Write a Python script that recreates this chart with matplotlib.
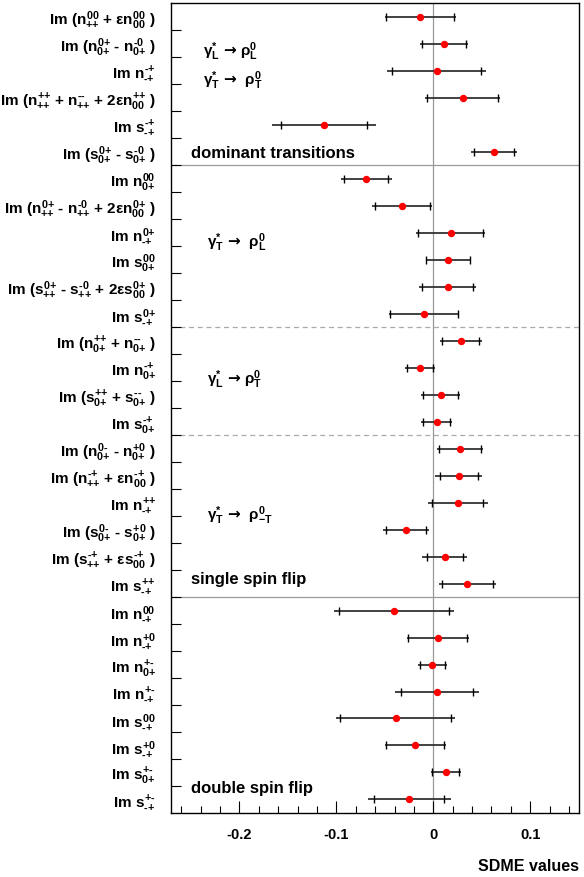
import numpy as np
import matplotlib
matplotlib.use('Agg')
import matplotlib.pyplot as plt

plt.rcParams['font.family'] = ['Liberation Sans', 'DejaVu Sans']
plt.rcParams['font.weight'] = 'bold'
plt.rcParams['mathtext.fontset'] = 'custom'
plt.rcParams['mathtext.rm'] = 'Liberation Sans:bold'
plt.rcParams['mathtext.it'] = 'Liberation Sans:bold'
plt.rcParams['mathtext.bf'] = 'Liberation Sans:bold'
plt.rcParams['mathtext.sf'] = 'DejaVu Sans:bold'
plt.rcParams['mathtext.cal'] = 'Liberation Sans'

# SDME labels, top to bottom
labels = [
    r'$\text{Im (}n^{\text{00}}_{\text{++}}\text{ + }εn^{\text{00}}_{\text{00}}\text{ )}$',
    r'$\text{Im (}n^{\text{0+}}_{\text{0+}}\text{ - }n^{\text{-0}}_{\text{0+}}\text{ )}$',
    r'$\text{Im }n^{\text{-+}}_{\text{-+}}$',
    r'$\text{Im (}n^{\text{++}}_{\text{++}}\text{ + }n^{\text{--}}_{\text{++}}\text{ + 2}εn^{\text{++}}_{\text{00}}\text{ )}$',
    r'$\text{Im }s^{\text{-+}}_{\text{-+}}$',
    r'$\text{Im (}s^{\text{0+}}_{\text{0+}}\text{ - }s^{\text{-0}}_{\text{0+}}\text{ )}$',
    r'$\text{Im }n^{\text{00}}_{\text{0+}}$',
    r'$\text{Im (}n^{\text{0+}}_{\text{++}}\text{ - }n^{\text{-0}}_{\text{++}}\text{ + 2}εn^{\text{0+}}_{\text{00}}\text{ )}$',
    r'$\text{Im }n^{\text{0+}}_{\text{-+}}$',
    r'$\text{Im }s^{\text{00}}_{\text{0+}}$',
    r'$\text{Im (}s^{\text{0+}}_{\text{++}}\text{ - }s^{\text{-0}}_{\text{++}}\text{ + 2}εs^{\text{0+}}_{\text{00}}\text{ )}$',
    r'$\text{Im }s^{\text{0+}}_{\text{-+}}$',
    r'$\text{Im (}n^{\text{++}}_{\text{0+}}\text{ + }n^{\text{--}}_{\text{0+}}\text{ )}$',
    r'$\text{Im }n^{\text{-+}}_{\text{0+}}$',
    r'$\text{Im (}s^{\text{++}}_{\text{0+}}\text{ + }s^{\text{--}}_{\text{0+}}\text{ )}$',
    r'$\text{Im }s^{\text{-+}}_{\text{0+}}$',
    r'$\text{Im (}n^{\text{0-}}_{\text{0+}}\text{ - }n^{\text{+0}}_{\text{0+}}\text{ )}$',
    r'$\text{Im (}n^{\text{-+}}_{\text{++}}\text{ + }εn^{\text{-+}}_{\text{00}}\text{ )}$',
    r'$\text{Im }n^{\text{++}}_{\text{-+}}$',
    r'$\text{Im (}s^{\text{0-}}_{\text{0+}}\text{ - }s^{\text{+0}}_{\text{0+}}\text{ )}$',
    r'$\text{Im (}s^{\text{-+}}_{\text{++}}\text{ + }εs^{\text{-+}}_{\text{00}}\text{ )}$',
    r'$\text{Im }s^{\text{++}}_{\text{-+}}$',
    r'$\text{Im }n^{\text{00}}_{\text{-+}}$',
    r'$\text{Im }n^{\text{+0}}_{\text{-+}}$',
    r'$\text{Im }n^{\text{+-}}_{\text{0+}}$',
    r'$\text{Im }n^{\text{+-}}_{\text{-+}}$',
    r'$\text{Im }s^{\text{00}}_{\text{-+}}$',
    r'$\text{Im }s^{\text{+0}}_{\text{-+}}$',
    r'$\text{Im }s^{\text{+-}}_{\text{0+}}$',
    r'$\text{Im }s^{\text{+-}}_{\text{-+}}$',
]

values = [-0.0134, 0.0110, 0.0035, 0.0303, -0.1128, 0.0630,
          -0.0691, -0.0320, 0.0179, 0.0152, 0.0148, -0.0096,
          0.0282, -0.0140, 0.0076, 0.0035,
          0.0276, 0.0265, 0.0251, -0.0282, 0.0117, 0.0351,
          -0.0402, 0.0045, -0.0010, 0.0038, -0.0388, -0.0186, 0.0128, -0.0248]
stat_err = [0.0351, 0.0230, 0.0460, 0.0365, 0.0440, 0.0207,
            0.0227, 0.0282, 0.0336, 0.0224, 0.0267, 0.0349,
            0.0189, 0.0133, 0.0180, 0.0137,
            0.0214, 0.0196, 0.0260, 0.0207, 0.0186, 0.0262,
            0.0566, 0.0306, 0.0129, 0.0375, 0.0570, 0.0298, 0.0139, 0.0360]
tot_err = [0.0369, 0.0248, 0.0511, 0.0390, 0.0532, 0.0238,
           0.0265, 0.0310, 0.0353, 0.0229, 0.0296, 0.0365,
           0.0217, 0.0155, 0.0200, 0.0162,
           0.0233, 0.0243, 0.0310, 0.0239, 0.0229, 0.0293,
           0.0621, 0.0320, 0.0152, 0.0437, 0.0616, 0.0313, 0.0155, 0.0429]

# group boundaries (after row n): solid or dashed
solid_after = [6, 22]
dashed_after = [12, 16]

y = np.arange(1, len(values) + 1)

fig = plt.figure(figsize=(5.84, 8.78), dpi=100)
ax = fig.add_axes([0.2928, 0.0729, 0.6986, 0.9225])

ax.axvline(0, color='#999999', lw=0.9, zorder=0)
for b in solid_after:
    ax.axhline(b + 0.5, color='#999999', lw=0.9, zorder=0)
for b in dashed_after:
    ax.axhline(b + 0.5, color='#aaaaaa', lw=0.9, ls=(0, (4, 3)), zorder=0)

# total errors: plain line, statistical errors: ticks
ax.errorbar(values, y, xerr=tot_err, fmt='none', ecolor='#333333', elinewidth=1.3, capsize=0, zorder=2)
ax.errorbar(values, y, xerr=stat_err, fmt='none', ecolor='black', elinewidth=0, capsize=2.6, capthick=1.0, zorder=3)
ax.plot(values, y, 'o', color='red', ms=4.3, zorder=4)

ax.set_xlim(-0.2707, 0.1504)
ax.set_ylim(len(values) + 0.5, 0.5)

ax.set_yticks(y)
ax.set_yticklabels(labels, fontsize=11)
ax.set_yticks(np.arange(1.5, len(values), 1.0), minor=True)
ax.tick_params(axis='y', which='major', length=0, pad=11)
ax.tick_params(axis='y', which='minor', length=7, direction='in', width=0.8)

ax.set_xticks([-0.2, -0.1, 0, 0.1])
ax.set_xticklabels(['-0.2', '-0.1', '0', '0.1'], fontsize=10.5, fontweight='bold')
ax.set_xticks(np.arange(-0.26, 0.15, 0.02), minor=True)
ax.tick_params(axis='x', which='major', length=9, direction='in', width=0.8, pad=10)
ax.tick_params(axis='x', which='minor', length=5, direction='in', width=0.8)

for s in ax.spines.values():
    s.set_linewidth(1.0)

ax.text(1.0, -0.0654, 'SDME values', transform=ax.transAxes, ha='right', va='center',
        fontsize=11.5, fontweight='bold')

ann_kw = dict(fontsize=11, va='center', ha='left')
ax.text(-0.238, 2.25, r'$\mathcal{γ}^{*}_{L}\ \mathsf{→}\ \mathcal{ρ}^{0}_{L}$', **ann_kw)
ax.text(-0.238, 3.35, r'$\mathcal{γ}^{*}_{T}\ \mathsf{→}\ \ \mathcal{ρ}^{0}_{T}$', **ann_kw)
ax.text(-0.250, 6.05, 'dominant transitions', fontsize=12, fontweight='bold', va='center')
ax.text(-0.234, 9.35, r'$\mathcal{γ}^{*}_{T}\ \mathsf{→}\ \ \mathcal{ρ}^{0}_{L}$', **ann_kw)
ax.text(-0.234, 14.4, r'$\mathcal{γ}^{*}_{L}\ \mathsf{→}\ \mathcal{ρ}^{0}_{T}$', **ann_kw)
ax.text(-0.234, 19.45, r'$\mathcal{γ}^{*}_{T}\ \mathsf{→}\ \ \mathcal{ρ}^{0}_{-T}$', **ann_kw)
ax.text(-0.250, 21.8, 'single spin flip', fontsize=12, fontweight='bold', va='center')
ax.text(-0.250, 29.55, 'double spin flip', fontsize=12, fontweight='bold', va='center')

fig.savefig('out.png', dpi=100)
